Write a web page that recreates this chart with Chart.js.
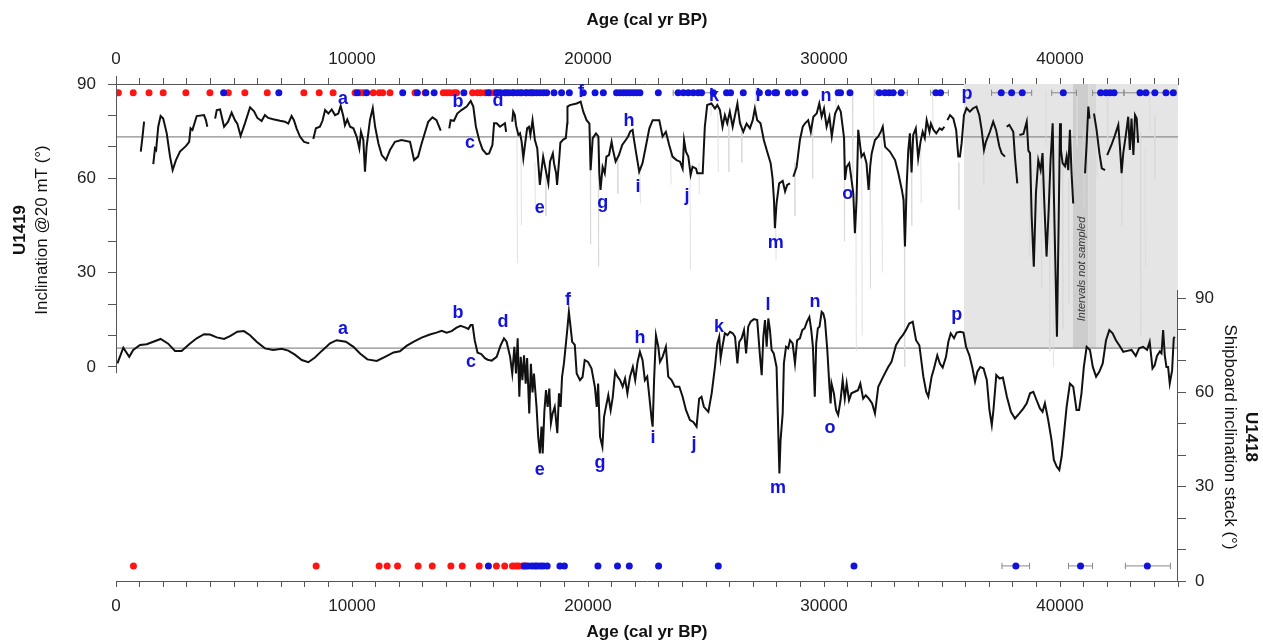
<!DOCTYPE html>
<html>
<head>
<meta charset="utf-8">
<script src="https://cdn.jsdelivr.net/npm/chart.js@4/dist/chart.umd.min.js"></script>
<style>
  body { margin: 0; background: #fff; }
  canvas { display: block; }
</style>
</head>
<body>
<canvas id="incChart" width="1263" height="643"></canvas>
<script>
// ---- data (age in cal yr BP, inclination in degrees) ----
// U1419 inclination @20 mT, null = gap in record
var u1419Age = [1050, 1120, 1190, 1300,
  1580, 1650, 1700, 1790, 1890, 2000, 2150, 2290, 2400, 2540, 2710, 2970, 3100, 3160, 3240, 3420, 3730, 3810, 3870, 4000,
  4200, 4270, 4410, 4580, 4750, 4900, 5040, 5140, 5280, 5460, 5680, 5850, 5990, 6170, 6310, 6450, 6660, 6950, 7160, 7300, 7440, 7540, 7650, 7800, 7970, 8190, 8250,
  8360, 8470, 8640, 8750, 8860, 9000, 9140, 9280, 9420, 9520, 9630, 9700, 9800, 9920, 10060, 10200, 10310, 10380, 10480, 10550, 10620, 10760, 10880, 10980, 11120, 11260, 11440, 11610, 11820, 12100, 12460, 12630, 12800, 12950, 13230, 13410, 13580, 13760, 13900,
  14120, 14180, 14320, 14460, 14640, 14860, 15030, 15140, 15250, 15390, 15530, 15700, 15810, 15950, 16020, 16130, 16270, 16480, 16530, 16650,
  16790, 16830, 16900, 16950, 17050, 17120, 17190, 17260, 17330, 17420, 17500, 17560, 17650, 17750, 17850, 17960, 18030, 18100, 18210, 18320, 18390, 18510, 18560, 18650, 18690, 18780, 18830, 18950, 19060, 19120, 19130, 19230, 19520, 19690, 19800, 19940, 20060, 20110, 20200, 20340, 20440, 20480, 20530, 20620, 20710, 20780, 20890, 21000, 21060, 21170, 21310, 21450, 21600, 21700, 21790, 21890, 21950, 22030, 22170, 22310, 22450, 22600, 22740, 23020, 23160, 23300, 23440, 23580, 23750, 23900, 24010, 24070, 24150, 24250, 24350, 24430, 24580, 24630, 24860, 24950,
  25050, 25230, 25380, 25480, 25590, 25700, 25800, 25900, 26010, 26130, 26230, 26330, 26440, 26580, 26720, 26860, 26980, 27070, 27170, 27310, 27450, 27590, 27740, 27820, 27880, 27920, 27990, 28100, 28250, 28350, 28440, 28560, 28620,
  28700, 28840, 28980, 29100, 29200, 29330, 29440, 29550, 29690, 29800, 29900, 30000, 30110, 30230, 30330, 30470, 30610, 30710, 30800, 30850, 30890, 30960, 31070, 31130, 31240, 31310, 31380, 31450, 31590, 31690, 31800, 31890, 31960, 32020, 32160, 32300, 32420, 32490, 32590, 32790, 33010, 33150, 33300, 33370, 33430, 33500, 33570, 33640, 33710, 33780, 33890, 33990, 34090, 34180, 34270, 34350, 34470, 34530, 34640, 34760, 34900, 35000, 35100, 35160,
  35230, 35340, 35480, 35600, 35690, 35760, 35830, 35930, 36040, 36180, 36320, 36460, 36580, 36680, 36780, 36860, 37030, 37170, 37290, 37430, 37530, 37670, 37700,
  37740, 37850, 38020, 38090, 38190, 38230,
  38280, 38450, 38590, 38660, 38730, 38800, 38890, 38980, 39080, 39180, 39260, 39330, 39430, 39520, 39600, 39690, 39740, 39800, 39870, 39940, 40000, 40040, 40110, 40210, 40280, 40350, 40420, 40490, 40560, 40800,
  41060, 41130, 41200, 41250, 41350,
  41440, 41550, 41670, 41770, 41910, 41950,
  42000, 42180, 42320, 42470, 42540, 42610, 42680, 42800, 42890, 42960, 43030, 43110, 43180, 43250, 43310];
var u1419Inc = [68.5, 73, 78, null,
  64.5, 69.5, 69, 76.4, 79.8, 79, 74.3, 66.9, 62.6, 65.8, 68.5, 70.3, 71.6, 75.9, 75.4, 79.8, 80.1, 78.5, 76.4, null,
  79, 81.7, 81.9, 76.4, 78, 80.9, 78.5, 77.4, 73.5, 77.4, 82.6, 81.3, 79.2, 78.2, 80.1, 79.2, 78.8, 78.3, 78, 77.4, 79.8, 78.5, 75.9, 73.2, 71.6, 71.1, null,
  72.5, 75.9, 76.4, 78.3, 81.7, 80.6, 81.9, 80.1, 80.6, 83, 79.8, 76.9, 78.7, 76.4, 75.9, 73.2, 69.5, 74.8, 72.2, 62.1, 70.1, 78.5, 82.3, 76.4, 71.1, 67.4, 65.8, 69, 71.6, 72.2, 71.6, 65.8, 66.9, 71.1, 78, 79.4, 78.5, 75.2, null,
  75.9, 78.5, 78.3, 80.6, 81.7, 82.8, 84.6, 82.8, 76.4, 72.2, 69.2, 67.7, 67.9, 70.6, 77.5, 77.5, 76.4, 77.5, 74.8, null,
  78, 81.2, 80.1, 76.9, 73.8, 74.3, 71.6, 66.4, 70.6, 75.9, 76.4, 73.8, 78.5, 72.2, 69.5, 57.9, 62.6, 66.9, 62.6, 58.4, 65.3, 67.9, 64.8, 61.6, 57.9, 66.1, 71.3, 72.3, 72.8, 77.5, 82.8, 83.3, 83.8, 84.4, 81.2, 78.5, 77.4, 62.6, 72.8, 74.3, 73.3, 61.6, 56.3, 63.6, 61.6, 66.9, 67.4, 71.6, 69, 65.3, 67.4, 70.6, 72.2, 73.3, 74.9, 75.4, 72.2, 68.5, 62.1, 64.8, 70.1, 75.9, 78.5, 78.5, 73.3, 74.8, 70.6, 66.9, 65.8, 65.3, 63.1, 72.2, 68.5, 66.9, 61.1, 63.7, 63.1, 61.6, 61.6, 76.4,
  83.3, 83.8, 82.2, 83.3, 81.7, 76.4, 80.1, 77.5, 81.2, 76.4, 80.1, 83.8, 77.5, 74.8, 77.4, 75.9, 78.5, 82.2, 78.5, 77.5, 72.2, 68.5, 64.8, 60, 53.1, 44.1, 52, 58.4, 59.2, 55.8, 57.9, 58.4, null,
  60.5, 63.6, 72.2, 76.4, 77.5, 78.5, 74.8, 79.6, 80.6, 83.8, 79.6, 82.2, 76.4, 79.6, 73.3, 80.6, 82.8, 81.2, 75.9, 72.8, 59.5, 63.6, 64.8, 61.6, 55.3, 42.5, 53.1, 75.4, 66.9, 67.9, 64.8, 56.3, 64, 67.9, 72.2, 73.3, 75, 76.4, 70, 68.5, 65.8, 61.6, 56.3, 53.1, 38.3, 57.2, 68.8, 74.3, 61.9, 73.8, 75.9, 66.4, 71.6, 74.8, 72.8, 78.5, 74.8, 77.4, 75.4, 74.3, 75.9, 75.4, 76.4, null,
  78.5, 80.1, 79, 75.4, 66.9, 66.9, 71.1, 80.1, 82.3, 81.2, 82.3, 82.8, 80.1, 75.4, 69, 71.6, 74.8, 78, 75.4, 70.1, 67.9, 66.9, null,
  76.4, 77, 74.8, 66.9, 58.4, null,
  73.8, 74.1, 78, 68.8, 68, 47.8, 31.9, 55.2, 65.8, 62.6, 68, 53.1, 35.1, 49.9, 65.8, 77.5, 55.2, 34, 9.6, 44.6, 77.5, 69, 64.8, 63.8, 66.9, 62.6, 75.4, 61.6, 52, null,
  61.6, 71.1, 82.8, 79, null,
  80.6, 75.4, 68, 63.2, 62.6, null,
  67.4, 70.6, 73.5, 77, 70, 61.6, 68, 74.3, 79.6, 69, 79, 67.4, 80.1, 79, 71.3];

// U1418 shipboard inclination stack
var u1418Age = [60, 310, 560, 730, 1020, 1300, 1580, 1890, 2210, 2500, 2780, 3100, 3420, 3730, 3980, 4270, 4580, 4850, 5140, 5420, 5680, 5960, 6310, 6660, 7020, 7300, 7580, 7870, 8150, 8430, 8720, 9070, 9350, 9740, 10060, 10340, 10650, 11050, 11400, 11760, 12030, 12310, 12600, 12950, 13300, 13580, 13800, 14010, 14220, 14430, 14600, 14790, 14930, 15030, 15110, 15200, 15320, 15480, 15630, 15750, 15920, 16130, 16300, 16440, 16550, 16700, 16790, 16880, 16950, 17020, 17090, 17150, 17220, 17290, 17360, 17420, 17510, 17580, 17650, 17710, 17820, 17890, 17960, 18030, 18080, 18150, 18220, 18290, 18360, 18430, 18500, 18590, 18700, 18770, 18840, 18900, 18980, 19050, 19120, 19190, 19260, 19330, 19440, 19520, 19660, 19770, 19860, 20000, 20150, 20290, 20370, 20430, 20510, 20610, 20680, 20760, 20860, 20960, 21050, 21150, 21250, 21360, 21470, 21570, 21670, 21780, 21900, 22000, 22100, 22200, 22310, 22410, 22510, 22600, 22700, 22740, 22800, 22880, 22980, 23050, 23160, 23300, 23400, 23540, 23680, 23870, 24010, 24150, 24320, 24460, 24600, 24710, 24810, 24910, 25100, 25240, 25380, 25480, 25560, 25620, 25710, 25800, 25910, 26020, 26130, 26230, 26330, 26410, 26510, 26610, 26700, 26790, 26890, 27030, 27170, 27290, 27360, 27430, 27500, 27570, 27640, 27710, 27780, 27870, 27990, 28060, 28110, 28160, 28250, 28300, 28390, 28480, 28560, 28670, 28770, 28860, 28980, 29080, 29180, 29280, 29380, 29460, 29530, 29610, 29670, 29740, 29810, 29900, 29970, 30040, 30140, 30230, 30280, 30320, 30420, 30510, 30600, 30700, 30790, 30880, 30960, 31060, 31160, 31300, 31440, 31540, 31660, 31770, 31900, 32040, 32160, 32300, 32510, 32720, 32860, 33050, 33230, 33340, 33470, 33610, 33760, 33900, 34040, 34210, 34330, 34420, 34560, 34660, 34800, 34910, 35030, 35170, 35270, 35370, 35510, 35620, 35770, 35910, 36020, 36160, 36280, 36400, 36500, 36620, 36760, 36900, 37010, 37110, 37180, 37300, 37440, 37580, 37750, 37920, 38090, 38280, 38450, 38590, 38730, 38870, 39010, 39150, 39260, 39360, 39500, 39640, 39740, 39860, 39970, 40070, 40170, 40280, 40420, 40560, 40700, 40810, 40910, 41010, 41130, 41270, 41390, 41530, 41670, 41810, 41950, 42090, 42230, 42370, 42510, 42680, 42850, 43030, 43210, 43350, 43520, 43690, 43800, 43920, 44010, 44110, 44230, 44300, 44370, 44440, 44510, 44580, 44650, 44750, 44820, 44860];
var u1418Inc = [69.2, 74.2, 71.3, 73.5, 75.1, 75.3, 76.1, 77, 75.5, 73.2, 73.2, 75.3, 77.2, 78.5, 78.4, 77.5, 77, 78, 79.3, 79.5, 78.2, 76.1, 74, 73.5, 73.9, 73.3, 72, 70.3, 69.6, 71.1, 73.2, 75.6, 76.6, 76.1, 74.5, 72.4, 70.5, 70, 71.3, 72.7, 73.1, 74.8, 76.1, 77.4, 78.4, 79, 79.6, 79, 79.5, 80.6, 81.2, 80.7, 80.2, 81.4, 81.4, 76.6, 72.6, 72.2, 70.9, 70.4, 70.1, 71.3, 75, 77.2, 76.1, 71.3, 66, 74.5, 66, 77.2, 58.6, 71.3, 63.9, 71.8, 62.8, 70.9, 53.3, 69.1, 60, 66, 55.3, 45.9, 40.6, 49.1, 40.6, 53.8, 60.7, 55.4, 61.2, 50.2, 53.3, 55.4, 47, 59.7, 55.4, 64.9, 69.2, 74.5, 79.8, 85.6, 80.9, 76.1, 75.1, 66, 63.9, 64.9, 70.3, 69.7, 67.6, 61.8, 55.4, 62.8, 45.9, 42.7, 52.2, 55.4, 59.1, 54.3, 58.6, 66.6, 65, 63.9, 61.8, 64.4, 59.7, 65, 68.1, 63.9, 69.7, 72.9, 70.3, 63.9, 65, 58.6, 51.2, 49.1, 63.9, 78.2, 74.5, 69.7, 71.3, 74.5, 65, 63.9, 61.8, 61.8, 58.6, 54.4, 51.2, 50.6, 49.1, 58, 58.6, 55.4, 53.8, 59.7, 68.1, 75.6, 77.7, 70.9, 75.1, 78.8, 78.2, 79.3, 78.8, 77.7, 69.2, 76.1, 77.2, 79.8, 72.4, 80.9, 82.5, 83.3, 83, 71.3, 65.5, 77.7, 83, 74.5, 83.5, 79.8, 73.5, 72.4, 68.1, 48, 34.2, 44.9, 53.3, 69.2, 74.5, 74, 76.6, 75.6, 69.2, 76.6, 77.2, 79.8, 80.4, 82.5, 84, 79.8, 74.5, 58.6, 75.6, 80.4, 80.9, 85.6, 85.1, 83, 73.5, 61.8, 56.5, 62.8, 59.7, 54.4, 52.8, 57.5, 63.9, 58, 62.8, 57.5, 59.7, 60.2, 60.7, 62.8, 58, 59.1, 58, 56.5, 53.3, 61.8, 65, 68.1, 69.7, 75, 77.2, 78.2, 79.8, 81.9, 82.5, 76.6, 75, 65, 60.2, 58.6, 65, 67.6, 71.8, 69.2, 67.9, 71.3, 76.1, 78.8, 77.2, 79, 79.3, 79, 74.5, 71.8, 68.1, 63.4, 66.6, 68.1, 67.6, 63.9, 54.4, 49.6, 54.4, 65.5, 64.4, 64.7, 58.6, 53.8, 51.7, 53.3, 54.9, 56.5, 59.7, 60.2, 57.5, 54.9, 53.8, 56.5, 51.2, 44.9, 38.5, 36.4, 35.3, 39.6, 46.9, 55.4, 62.8, 61.8, 54.4, 54.4, 59.7, 68.1, 74.5, 73.5, 68.1, 65, 66.6, 69.2, 76.6, 79.8, 78.8, 76.6, 75, 72.9, 73.2, 73.5, 71.6, 74, 74.5, 73.5, 76.1, 67.6, 68.6, 71.6, 73, 72.4, 79.8, 71.8, 68.1, 68.1, 62.8, 67, 77.2, 77.7];

// U1419 raw (unsmoothed) excursions, light grey
var rawAge = [16990, 17160, 17750, 18200, 20090, 20430, 21250, 22200, 23500, 24320, 24700, 25200, 25500, 25950, 26500, 27100, 27950, 28750, 29500, 30500, 30850, 31200, 31350, 31600, 31950, 32100, 32450, 33400, 33700, 34100, 34600, 35700, 36750, 38700, 39200, 39400, 39550, 39700, 40100, 40350, 40700, 41000, 41550, 42000, 42600, 43400, 43600, 43800, 44000];
var rawHi = [75, 72, 65, 63, 75, 70, 66, 62, 70, 63, 65, 89, 82, 78, 78, 89, 50, 65, 78, 89, 72, 88, 55, 67, 60, 89, 75, 55, 65, 70, 89, 65, 70, 68, 60, 88, 55, 60, 65, 60, 88, 75, 78, 88, 65, 75, 70, 88, 80];
var rawLo = [33, 45, 50, 48, 39, 32, 55, 52, 58, 31, 55, 80, 62, 62, 65, 80, 34, 48, 60, 80, 40, 60, 5, 10, 25, 72, 30, 0, 45, 52, 76, 50, 58, 35, 25, 70, 5, 0, 12, 20, 70, 50, 60, 70, 45, 10, 32, 75, 60];

// reference (GAD) inclination lines
var gadU1419 = 73.2;
var gadU1418 = 74.1;

// age control points: top row (U1419), bottom row (U1418)
var topRedAge = [0, 100, 730, 1400, 2000, 2960, 3980, 4760, 5460, 6410, 7960, 8610, 9200, 10130, 10340, 10480, 10900, 11160, 11300, 11610, 12670, 13100, 13870, 14010, 14150, 14320, 14430, 15110, 15310, 15450, 15640, 15850, 16020, 16200, 16550, 16830, 17120, 17400, 17610];
var topBlueAge = [4560, 6900, 10220, 10620, 12150, 12770, 13130, 13480, 14740, 15770, 16130, 16300, 16480, 16660, 16830, 17000, 17190, 17370, 17540, 17680, 17820, 17960, 18110, 18250, 18560, 18880, 19210, 19800, 20300, 20650, 21210, 21350, 21500, 21640, 21780, 21920, 22060, 22200, 22980, 23820, 24040, 24250, 24460, 24670, 24810, 25310, 25870, 26040, 26580, 27260, 27640, 27920, 27990, 28490, 28770, 29190, 30600, 30700, 31100, 32340, 32580, 32760, 32930, 33270, 34740, 34940, 37510, 37950, 38400, 40140, 41720, 41950, 42120, 42290, 43390, 43640, 44020, 44490, 44800];
var topErrLo = [23610, 32160, 34520, 37100, 39650, 41380, 42710];
var topErrHi = [25310, 33530, 35270, 38800, 40700, 42710, 44910];
var topRowInc = 87.2;

var botRedAge = [740, 8480, 11150, 11490, 11930, 12800, 13400, 14190, 14670, 15390, 16120, 16470, 16800, 16940, 17050, 17220, 17360];
var botBlueAge = [15780, 17300, 17460, 17620, 17750, 17850, 17990, 18110, 18270, 18810, 19000, 20420, 21250, 21750, 22990, 25520, 31270, 38130, 40870, 43700];
var botErrLo = [37540, 40360, 42770];
var botErrHi = [38710, 41380, 44680];
var botRowInc = 4.8;

// tie-point letters
var tieLetters = ['a', 'b', 'c', 'd', 'e', 'f', 'g', 'h', 'i', 'j', 'k', 'l', 'm', 'n', 'o', 'p'];
var tieAgeU1419 = [9620, 14490, 15000, 16190, 17960, 19700, 20630, 21740, 22120, 24190, 25340, 27200, 27960, 30080, 31010, 36060];
var tieIncU1419 = [85.2, 84.3, 71.2, 84.6, 50.6, 87.5, 52.2, 78.2, 57.2, 54.4, 86.2, 86.2, 39.4, 86.2, 55, 86.8];
var tieAgeU1418 = [9620, 14490, 15040, 16400, 17960, 19150, 20510, 22200, 22750, 24490, 25550, 27630, 28050, 29620, 30250, 35630];
var tieIncU1418 = [80.1, 85.2, 69.6, 82.4, 35.3, 89.4, 37.5, 77.3, 45.5, 43.6, 80.8, 87.8, 29.6, 88.7, 48.7, 84.6];

// shaded interval and not-sampled intervals
var shadeStart = 35930, shadeEnd = 45000;
var gapStart = [40550, 41200], gapEnd = [41200, 41525];

var ageMax = 45000;

// ---- helpers ----
function pts(ages, vals) {
    var out = [];
    for (var i = 0; i < ages.length; i++) out.push({x: ages[i], y: vals[i]});
    return out;
}
function dots(ages, v) {
    return ages.map(function (a) { return {x: a, y: v}; });
}
function bars(lo, hi, v) {
    var out = [];
    for (var i = 0; i < lo.length; i++) {
        out.push({x: lo[i], y: v - 1}, {x: lo[i], y: v + 1}, {x: lo[i], y: null});
        out.push({x: lo[i], y: v}, {x: hi[i], y: v}, {x: hi[i], y: null});
        out.push({x: hi[i], y: v - 1}, {x: hi[i], y: v + 1}, {x: hi[i], y: null});
    }
    return out;
}
function spikes() {
    var out = [];
    for (var i = 0; i < rawAge.length; i++) {
        out.push({x: rawAge[i], y: rawHi[i]}, {x: rawAge[i] + 20, y: rawLo[i]}, {x: rawAge[i] + 40, y: null});
    }
    return out;
}

var FONT = "'Liberation Sans', Arial, sans-serif";
Chart.defaults.font.family = FONT;
Chart.defaults.font.size = 17;
Chart.defaults.color = '#222';

var blue = '#1212dc';
var red = '#ff1414';

var degTicks = function (scale) {
    var t = [];
    for (var v = 0; v <= 90; v += 10) t.push({value: v});
    scale.ticks = t;
};
var ageTicks = function (scale) {
    var t = [];
    for (var v = 0; v <= ageMax; v += 1000) t.push({value: v});
    scale.ticks = t;
};

var overlay = {
    id: 'overlay',
    afterDatasetsDraw: function (chart) {
        var c = chart.ctx, x = chart.scales.x, yl = chart.scales.yL, yr = chart.scales.yR;
        c.save();
        c.fillStyle = blue;
        c.font = 'bold 18px ' + FONT;
        c.textAlign = 'center';
        c.textBaseline = 'middle';
        for (var i = 0; i < tieLetters.length; i++) {
            c.fillText(tieLetters[i], x.getPixelForValue(tieAgeU1419[i]), yl.getPixelForValue(tieIncU1419[i]));
            c.fillText(tieLetters[i], x.getPixelForValue(tieAgeU1418[i]), yr.getPixelForValue(tieIncU1418[i]));
        }
        // note in the not-sampled band
        c.fillStyle = '#333';
        c.font = 'italic 11px ' + FONT;
        c.translate(x.getPixelForValue(40950), 269);
        c.rotate(-Math.PI / 2);
        c.fillText('Intervals not sampled', 0, 0);
        c.restore();
    },
    afterDraw: function (chart) {
        var c = chart.ctx, a = chart.chartArea, yl = chart.scales.yL, yr = chart.scales.yR;
        c.save();
        // partial y axis lines
        c.strokeStyle = '#555';
        c.lineWidth = 1;
        c.beginPath();
        c.moveTo(a.left + 0.5, yl.getPixelForValue(90) - 8);
        c.lineTo(a.left + 0.5, yl.getPixelForValue(-2));
        c.moveTo(a.right - 0.5, yr.getPixelForValue(90) - 8);
        c.lineTo(a.right - 0.5, a.bottom);
        c.stroke();

        c.fillStyle = '#111';
        c.textAlign = 'center';
        c.textBaseline = 'middle';
        c.font = 'bold 17px ' + FONT;
        var mid = (a.left + a.right) / 2;
        c.fillText('Age (cal yr BP)', mid, 20);
        c.fillText('Age (cal yr BP)', mid, 632);

        c.save();
        c.translate(20, 230);
        c.rotate(-Math.PI / 2);
        c.fillText('U1419', 0, 0);
        c.font = '17px ' + FONT;
        c.fillText('Inclination @20 mT (°)', 0, 22);
        c.restore();

        c.save();
        c.translate(1251, 437);
        c.rotate(Math.PI / 2);
        c.fillText('U1418', 0, 0);
        c.font = '17px ' + FONT;
        c.fillText('Shipboard inclination stack (°)', 0, 21);
        c.restore();
        c.restore();
    }
};

var lineBase = {pointRadius: 0, borderWidth: 2, tension: 0, spanGaps: false, fill: false};

var ctx = document.getElementById('incChart').getContext('2d');
new Chart(ctx, {
    type: 'line',
    data: {
        datasets: [
            {data: pts([shadeStart, shadeEnd], [158.1, 158.1]), yAxisID: 'yR', pointRadius: 0, borderWidth: 0,
             backgroundColor: '#e5e5e5', fill: {value: gadU1418}, order: 20},
            {data: pts([gapStart[0], gapEnd[0]], [158.1, 158.1]), yAxisID: 'yR', pointRadius: 0, borderWidth: 0,
             backgroundColor: '#cdcdcd', fill: {value: gadU1418}, order: 19},
            {data: pts([gapStart[1], gapEnd[1]], [158.1, 158.1]), yAxisID: 'yR', pointRadius: 0, borderWidth: 0,
             backgroundColor: '#d8d8d8', fill: {value: gadU1418}, order: 19},
            Object.assign({}, lineBase, {data: pts([0, ageMax], [gadU1419, gadU1419]), yAxisID: 'yL',
             borderColor: '#8c8c8c', borderWidth: 1.2, order: 18}),
            Object.assign({}, lineBase, {data: pts([0, ageMax], [gadU1418, gadU1418]), yAxisID: 'yR',
             borderColor: '#8c8c8c', borderWidth: 1.2, order: 18}),
            Object.assign({}, lineBase, {data: spikes(), yAxisID: 'yL', borderColor: '#d9d9d9', borderWidth: 0.8, order: 15}),
            Object.assign({}, lineBase, {data: pts(u1419Age, u1419Inc), yAxisID: 'yL', borderColor: '#111', order: 10}),
            Object.assign({}, lineBase, {data: pts(u1418Age, u1418Inc), yAxisID: 'yR', borderColor: '#111', order: 10}),
            Object.assign({}, lineBase, {data: bars(topErrLo, topErrHi, topRowInc), yAxisID: 'yL', borderColor: '#888', borderWidth: 1, order: 6}),
            Object.assign({}, lineBase, {data: bars(botErrLo, botErrHi, botRowInc), yAxisID: 'yR', borderColor: '#888', borderWidth: 1, order: 6}),
            {data: dots(topRedAge, topRowInc), yAxisID: 'yL', showLine: false, pointRadius: 3.5, pointBorderWidth: 0,
             pointBackgroundColor: red, order: 4},
            {data: dots(topBlueAge, topRowInc), yAxisID: 'yL', showLine: false, pointRadius: 3.5, pointBorderWidth: 0,
             pointBackgroundColor: blue, order: 3},
            {data: dots(botRedAge, botRowInc), yAxisID: 'yR', showLine: false, pointRadius: 3.5, pointBorderWidth: 0,
             pointBackgroundColor: red, order: 4},
            {data: dots(botBlueAge, botRowInc), yAxisID: 'yR', showLine: false, pointRadius: 3.5, pointBorderWidth: 0,
             pointBackgroundColor: blue, order: 3}
        ]
    },
    options: {
        responsive: false,
        animation: false,
        events: [],
        layout: {padding: 0},
        plugins: {legend: {display: false}, tooltip: {enabled: false}},
        scales: {
            x: {
                type: 'linear', position: 'bottom', min: 0, max: ageMax,
                afterBuildTicks: ageTicks,
                afterFit: function (s) { s.height = 62; },
                ticks: {autoSkip: false, maxRotation: 0, padding: 9,
                        callback: function (v) { return v % 10000 === 0 ? String(v) : ''; }},
                grid: {drawOnChartArea: false, tickLength: 6, color: '#555'},
                border: {color: '#555'}
            },
            x2: {
                type: 'linear', position: 'top', min: 0, max: ageMax,
                afterBuildTicks: ageTicks,
                afterFit: function (s) { s.height = 84; },
                ticks: {autoSkip: false, maxRotation: 0, padding: 8,
                        callback: function (v) { return v % 10000 === 0 ? String(v) : ''; }},
                grid: {drawOnChartArea: false, tickLength: 6, color: '#555'},
                border: {color: '#555'}
            },
            yL: {
                type: 'linear', position: 'left', min: -68.1, max: 90,
                afterBuildTicks: degTicks,
                afterFit: function (s) { s.width = 116; },
                ticks: {padding: 12, callback: function (v) { return v % 30 === 0 ? String(v) : ''; }},
                grid: {drawOnChartArea: false, tickLength: 8, color: '#555'},
                border: {display: false}
            },
            yR: {
                type: 'linear', position: 'right', min: 0, max: 158.1,
                afterBuildTicks: degTicks,
                afterFit: function (s) { s.width = 85; },
                ticks: {padding: 9, callback: function (v) { return v % 30 === 0 ? String(v) : ''; }},
                grid: {drawOnChartArea: false, tickLength: 8, color: '#555'},
                border: {display: false}
            }
        }
    },
    plugins: [overlay]
});
</script>
</body>
</html>
